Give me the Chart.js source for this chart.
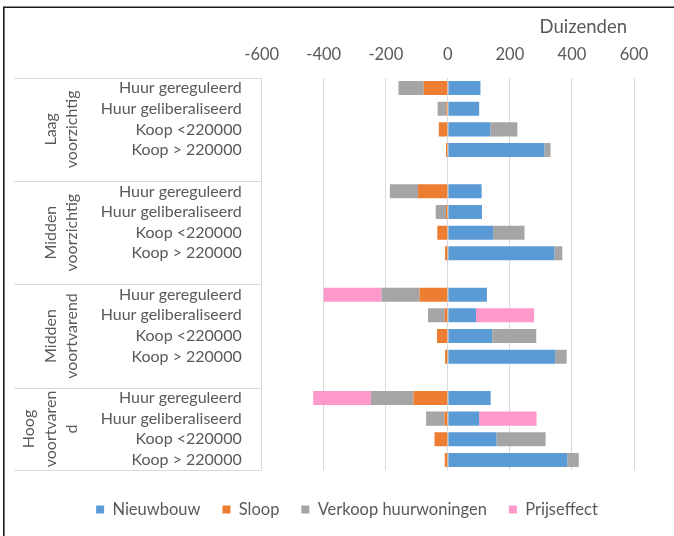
<!DOCTYPE html>
<html>
<head>
<meta charset="utf-8">
<script src="https://cdn.jsdelivr.net/npm/chart.js@4/dist/chart.umd.min.js"></script>
<style>
  html, body { margin: 0; padding: 0; background: #fff; }
  #wrap { width: 674px; height: 536px; position: relative; }
</style>
</head>
<body>
<div id="wrap"><canvas id="chart"></canvas></div>
<script>
// Row labels (an empty label separates the scenario groups)
const categories = [
  'Huur gereguleerd', 'Huur geliberaliseerd', 'Koop <220000', 'Koop > 220000', '',
  'Huur gereguleerd', 'Huur geliberaliseerd', 'Koop <220000', 'Koop > 220000', '',
  'Huur gereguleerd', 'Huur geliberaliseerd', 'Koop <220000', 'Koop > 220000', '',
  'Huur gereguleerd', 'Huur geliberaliseerd', 'Koop <220000', 'Koop > 220000'
];

// Scenario groups: label lines and number of rows each group spans
const groupLabels = [
  ['Laag', 'voorzichtig'],
  ['Midden', 'voorzichtig'],
  ['Midden', 'voortvarend'],
  ['Hoog', 'voortvaren', 'd']
];
const groupSizes = [5, 5, 5, 4];

// Values in thousands
const nieuwbouw = [105, 101, 137, 311, null, 109, 110, 146, 343, null, 126, 91, 143, 346, null, 138, 101, 157, 385];
const sloop     = [-78, -5, -29, -6, null, -96, -6, -34, -9, null, -91, -10, -35, -9, null, -111, -11, -43, -10];
const verkoop   = [-81, -28, 87, 20, null, -91, -33, 101, 26, null, -123, -54, 142, 37, null, -137, -59, 158, 37];
const prijseffect = [null, null, null, null, null, null, null, null, null, null, -186, 187, null, null, null, -186, 185, null, null];

const xTicks = [-600, -400, -200, 0, 200, 400, 600];
const xTitle = 'Duizenden';

const seriesNames = ['Nieuwbouw', 'Sloop', 'Verkoop huurwoningen', 'Prijseffect'];
const seriesColors = ['#5B9BD5', '#ED7D31', '#A5A5A5', '#FF99CC'];

const FONT = 'Lato, "Open Sans", sans-serif';
const TEXT = '#595959';
const GRID = '#D9D9D9';

// Frame, axis title, group separators and rotated group names
const groupAxisPlugin = {
  id: 'groupAxis',
  beforeDraw(chart) {
    const ctx = chart.ctx;
    ctx.save();
    ctx.fillStyle = '#fff';
    ctx.fillRect(0, 0, chart.width, chart.height);
    ctx.strokeStyle = '#1a1a1a';
    ctx.lineWidth = 1.6;
    ctx.beginPath();
    ctx.moveTo(3.8, chart.height + 5);
    ctx.lineTo(3.8, 7.3);
    ctx.lineTo(chart.width + 5, 7.3);
    ctx.stroke();
    ctx.restore();
  },
  afterDraw(chart) {
    const ctx = chart.ctx;
    const y = chart.scales.y;
    const n = categories.length;
    const edge = i => i <= 0 ? y.top : (i >= n ? y.bottom : (y.getPixelForValue(i - 1) + y.getPixelForValue(i)) / 2);
    const area = chart.chartArea;
    ctx.save();

    // value axis title, above the tick labels at the right end
    ctx.fillStyle = TEXT;
    ctx.font = '18.5px ' + FONT;
    ctx.textAlign = 'right';
    ctx.textBaseline = 'middle';
    ctx.fillText(xTitle, area.right - 7, 27);

    ctx.strokeStyle = GRID;
    ctx.lineWidth = 1;
    let start = 0;
    const lines = [edge(0)];
    groupSizes.forEach(s => { start += s; lines.push(edge(start)); });
    lines.forEach(py => {
      const yy = Math.round(py) + 0.5;
      ctx.beginPath();
      ctx.moveTo(14, yy);
      ctx.lineTo(area.left, yy);
      ctx.stroke();
    });

    ctx.font = '16px ' + FONT;
    ctx.textAlign = 'center';
    start = 0;
    groupLabels.forEach((parts, g) => {
      const yc = (edge(start) + edge(start + groupSizes[g])) / 2;
      parts.forEach((txt, k) => {
        const xc = 72 - (parts.length - 1 - k) * 21.5;
        ctx.save();
        ctx.translate(xc, yc);
        ctx.rotate(-Math.PI / 2);
        ctx.fillText(txt, 0, 0);
        ctx.restore();
      });
      start += groupSizes[g];
    });
    ctx.restore();
  },
  afterLayout(chart) {
    // sit the legend row a little lower and to the right
    const lg = chart.legend;
    if (lg) { lg.top += 9; lg.bottom += 9; lg.left += 23; lg.right += 23; }
  }
};

const datasets = [nieuwbouw, sloop, verkoop, prijseffect].map((d, i) => ({
  label: seriesNames[i],
  data: d,
  backgroundColor: seriesColors[i],
  borderWidth: 0,
  barPercentage: 0.68,
  categoryPercentage: 1.0
}));

new Chart(document.getElementById('chart'), {
  type: 'bar',
  data: { labels: categories, datasets },
  options: {
    indexAxis: 'y',
    responsive: true,
    maintainAspectRatio: false,
    animation: false,
    layout: { padding: { left: 14, right: 40, top: 10, bottom: 17.2 } },
    scales: {
      x: {
        position: 'top',
        stacked: true,
        min: -600,
        max: 600,
        afterBuildTicks(scale) { scale.ticks = xTicks.map(v => ({ value: v })); },
        afterFit(scale) { scale.height = 67.7; },
        grid: { color: GRID, lineWidth: 1, drawTicks: false },
        border: { display: false },
        ticks: { color: TEXT, font: { family: FONT, size: 16.5 }, padding: 13 }
      },
      y: {
        stacked: true,
        afterFit(scale) { scale.width = 247.7; },
        grid: { display: false, drawTicks: false },
        border: { display: false },
        ticks: { color: TEXT, font: { family: FONT, size: 16 }, padding: 20, autoSkip: false }
      }
    },
    plugins: {
      tooltip: { enabled: false },
      legend: {
        position: 'bottom',
        labels: {
          color: TEXT,
          font: { family: FONT, size: 16.5 },
          boxWidth: 8,
          boxHeight: 8,
          padding: 22
        }
      }
    }
  },
  plugins: [groupAxisPlugin]
});
</script>
</body>
</html>
